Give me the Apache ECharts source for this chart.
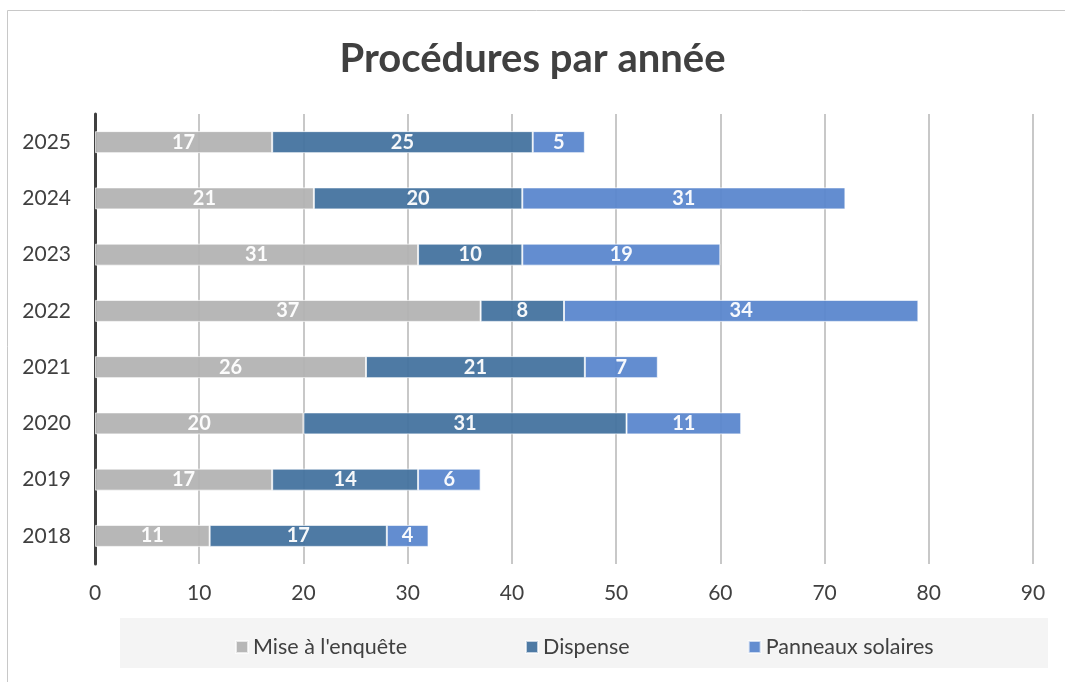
<!DOCTYPE html>
<html>
<head>
<meta charset="utf-8">
<script src="https://cdn.jsdelivr.net/npm/echarts@6/dist/echarts.min.js"></script>
<style>
  html, body { margin: 0; padding: 0; background: #fff; }
  #chart { width: 1065px; height: 682px; }
</style>
</head>
<body>
<div id="chart"></div>
<script>
// données (de bas en haut)
var years = ['2018', '2019', '2020', '2021', '2022', '2023', '2024', '2025'];
var enquete = [11, 17, 20, 26, 37, 31, 21, 17];
var dispense = [17, 14, 31, 21, 8, 10, 20, 25];
var solaires = [4, 6, 11, 7, 34, 19, 31, 5];
var xTicks = [0, 10, 20, 30, 40, 50, 60, 70, 80, 90];

(function () {
    var myChart = echarts.init(document.getElementById('chart'));
    var font = 'Lato, "Open Sans", sans-serif';

    function serie(name, color, data) {
        return {
            name: name,
            type: 'bar',
            stack: 'total',
            barWidth: 22,
            data: data,
            itemStyle: {
                color: color,
                opacity: 0.95,
                borderColor: 'rgba(255,255,255,0.7)',
                borderWidth: 1
            },
            label: {
                show: true,
                position: 'inside',
                color: '#fff',
                fontWeight: 'bold',
                fontSize: 20,
                fontFamily: font
            }
        };
    }

    var option = {
        backgroundColor: '#fff',
        animation: false,
        textStyle: { fontFamily: font },
        title: {
            text: 'Procédures par année',
            left: 'center',
            top: 34,
            textStyle: {
                fontSize: 40,
                fontWeight: 'bold',
                color: '#404040',
                fontFamily: font
            }
        },
        graphic: [
            {
                type: 'rect',
                shape: { x: 7.5, y: 10.5, width: 1100, height: 700 },
                style: { fill: 'none', stroke: '#c8c8c8', lineWidth: 1 },
                z: -10
            },
            {
                type: 'rect',
                shape: { x: 120, y: 618, width: 928, height: 50 },
                style: { fill: '#f4f4f4' },
                z: -5
            }
        ],
        legend: {
            left: 230,
            top: 631,
            itemGap: 118,
            itemWidth: 12,
            itemHeight: 12,
            icon: 'rect',
            textStyle: { fontSize: 21.5, color: '#404040', fontFamily: font },
            data: ["Mise à l'enquête", 'Dispense', 'Panneaux solaires']
        },
        grid: {
            left: 95,
            right: 32,
            top: 114,
            bottom: 118
        },
        xAxis: {
            type: 'value',
            min: xTicks[0],
            max: xTicks[xTicks.length - 1],
            interval: 10,
            axisLine: { show: false },
            axisTick: { show: false },
            axisLabel: { fontSize: 21, color: '#404040', margin: 19, fontFamily: font },
            splitLine: { lineStyle: { color: '#c8c8c8', width: 2 } }
        },
        yAxis: {
            type: 'category',
            data: years,
            axisLine: { lineStyle: { color: '#404040', width: 3 } },
            axisTick: { show: false },
            axisLabel: { fontSize: 21, color: '#404040', margin: 24, fontFamily: font }
        },
        series: [
            serie("Mise à l'enquête", '#b3b3b3', enquete),
            serie('Dispense', '#44739f', dispense),
            serie('Panneaux solaires', '#5b87cd', solaires)
        ]
    };

    myChart.setOption(option);
})();
</script>
</body>
</html>
